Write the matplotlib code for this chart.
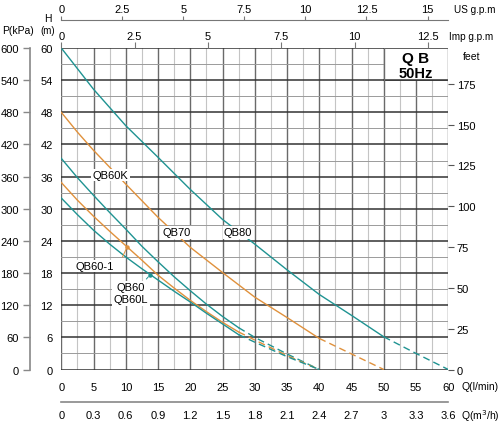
import numpy as np
import matplotlib
matplotlib.use("Agg")
import matplotlib.pyplot as plt

plt.rcParams['font.family'] = ['Liberation Sans', 'DejaVu Sans']
plt.rcParams['font.size'] = 8

TEAL = '#1f9392'
ORANGE = '#e0913c'

# flow Q (l/min) and head H (m)
q_80 = [0, 5, 10, 15, 20, 25, 30, 35, 40, 45, 50]
h_80 = [60, 52.3, 45.5, 39.6, 33.6, 28.0, 23.4, 18.6, 14.0, 10.1, 6.1]
q_80d = [50, 55, 60]
h_80d = [6.1, 3.0, 0]

q_70 = [0, 2.5, 5, 10, 15, 20, 25, 30, 35, 40]
h_70 = [48, 44.3, 40.9, 34.6, 28.4, 22.8, 18.1, 13.5, 9.7, 5.8]
q_70d = [40, 45, 50]
h_70d = [5.8, 2.9, 0]

q_60 = [0, 2.5, 5, 7.5, 10, 12.5, 15, 17.5, 20, 22.5, 25, 27.5]
h_60k = [39.4, 35.8, 32.5, 29.3, 26.2, 23.0, 20.1, 17.3, 14.7, 12.2, 9.9, 7.8]
h_601 = [34.9, 31.6, 28.6, 25.8, 23.1, 20.4, 17.6, 15.2, 12.9, 10.8, 8.8, 7.0]
h_60 = [32.0, 28.9, 26.0, 23.4, 21.0, 18.8, 16.7, 14.6, 12.6, 10.5, 8.5, 6.5]
q_60d = [27.5, 30, 35, 40]
h_60kd = [7.8, 6.0, 2.9, 0]
h_601d = [7.0, 5.5, 2.6, 0]
h_60d = [6.5, 5.1, 2.4, 0]

q_ticks = np.arange(0, 61, 5)
h_ticks = np.arange(0, 61, 6)
p_ticks = np.arange(0, 601, 60)
ft_ticks = np.arange(0, 176, 25)
us_ticks = [0, 2.5, 5, 7.5, 10, 12.5, 15]
imp_ticks = [0, 2.5, 5, 7.5, 10, 12.5]
m3h_ticks = np.round(np.arange(0, 3.61, 0.3), 1)

fig = plt.figure(figsize=(5.0, 4.27), dpi=100)
ax = fig.add_axes([0.1226, 0.1323, 0.774, 0.7529])
ax.set_xlim(0, 60)
ax.set_ylim(0, 60)

# grid
for q in np.arange(0, 60.1, 2.5):
    if q % 5 == 0:
        ax.axvline(q, color='#6a6a6a', lw=1.0, zorder=1)
    else:
        ax.axvline(q, color='#c4c4c4', lw=0.8, zorder=1)
for h in np.arange(0, 60.1, 3):
    if h % 6 == 0:
        ax.axhline(h, color='#333333', lw=1.1, zorder=1)
    else:
        ax.axhline(h, color='#9a9a9a', lw=0.7, zorder=1)

# title box: one blank grid cell in the top right corner
ax.fill_between([50, 60], 54, 60, color='white', zorder=1.5, lw=0)
ax.plot([50, 60], [60, 60], color='#333333', lw=1.1, zorder=2)
ax.plot([50, 60], [54, 54], color='#333333', lw=1.1, zorder=2)
ax.plot([50, 50], [54, 60], color='#6a6a6a', lw=1.0, zorder=2)
ax.plot([60, 60], [54, 60], color='#6a6a6a', lw=1.0, zorder=2)
ax.text(55, 58.1, 'Q B', ha='center', va='center', fontsize=11, fontweight='bold', zorder=5)
ax.text(55, 55.4, '50Hz', ha='center', va='center', fontsize=10.5, fontweight='bold', zorder=5)

# curves
dash = (0, (5, 3))
ax.plot(q_80, h_80, color=TEAL, lw=1.0, zorder=3)
ax.plot(q_80d, h_80d, color=TEAL, lw=1.0, ls=dash, zorder=3)
ax.plot(q_70, h_70, color=ORANGE, lw=1.0, zorder=3)
ax.plot(q_70d, h_70d, color=ORANGE, lw=1.0, ls=dash, zorder=3)
ax.plot(q_60, h_60k, color=TEAL, lw=1.0, zorder=3)
ax.plot(q_60d, h_60kd, color=TEAL, lw=1.0, ls=dash, zorder=3)
ax.plot(q_60, h_601, color=ORANGE, lw=1.0, zorder=3)
ax.plot(q_60d, h_601d, color=ORANGE, lw=1.0, ls=dash, zorder=3)
ax.plot(q_60, h_60, color=TEAL, lw=1.0, zorder=3)
ax.plot(q_60d, h_60d, color=TEAL, lw=1.0, ls=dash, zorder=3)

box = dict(facecolor='white', edgecolor='none', pad=1.0)
ax.text(7.6, 36.3, 'QB60K', ha='center', va='center', fontsize=8, bbox=box, zorder=5)
ax.text(17.9, 25.6, 'QB70', ha='center', va='center', fontsize=8, bbox=box, zorder=5)
ax.text(27.4, 25.6, 'QB80', ha='center', va='center', fontsize=8, bbox=box, zorder=5)
ax.text(5.2, 19.3, 'QB60-1', ha='center', va='center', fontsize=8, bbox=box, zorder=5)
ax.text(10.8, 14.2, 'QB60\nQB60L', ha='center', va='center', fontsize=8,
        linespacing=1.25, bbox=box, zorder=5)

# leader lines from labels to curves
q1 = 10.2
ax.annotate('', xy=(q1, np.interp(q1, q_60, h_601)), xytext=(9.3, 20.5),
            arrowprops=dict(arrowstyle='-', color=ORANGE, lw=0.7), zorder=6)
ax.plot(q1, np.interp(q1, q_60, h_601), 'o', color=ORANGE, ms=2.2, zorder=6)
q2 = 13.8
ax.annotate('', xy=(q2, np.interp(q2, q_60, h_60)), xytext=(12.9, 16.5),
            arrowprops=dict(arrowstyle='-', color=TEAL, lw=0.7), zorder=6)
ax.plot(q2, np.interp(q2, q_60, h_60), 'o', color=TEAL, ms=2.2, zorder=6)

for s in ax.spines.values():
    s.set_visible(False)
ax.set_xticks(q_ticks)
ax.set_yticks(h_ticks)
ax.tick_params(axis='both', length=0, labelsize=8, colors='black')
ax.tick_params(axis='x', pad=9)
ax.tick_params(axis='y', pad=6)

# P (kPa) axis on the far left
axp = ax.twinx()
axp.set_ylim(0, 600)
axp.yaxis.set_ticks_position('left')
axp.yaxis.set_label_position('left')
for k, s in axp.spines.items():
    s.set_visible(k == 'left')
axp.spines['left'].set_position(('outward', 22.5))
axp.spines['left'].set_color('#888888')
axp.spines['left'].set_linewidth(1.2)
axp.set_yticks(p_ticks)
axp.tick_params(axis='y', direction='out', length=5, width=1.0, color='#888888',
                labelsize=8, pad=3)

# feet axis on the right
axf = ax.twinx()
axf.set_ylim(0, 60 * 3.28084)
for s in axf.spines.values():
    s.set_visible(False)
axf.set_yticks(ft_ticks)
axf.tick_params(axis='y', direction='out', length=4, width=0.8, color='#555555',
                labelsize=8, pad=2)

# US gpm axis on top
axu = ax.twiny()
axu.set_xlim(0, 60 / 3.78541)
for k, s in axu.spines.items():
    s.set_visible(k == 'top')
axu.spines['top'].set_position(('outward', 20.5))
axu.spines['top'].set_color('#777777')
axu.set_xticks(us_ticks)
axu.set_xticklabels(['0', '2.5', '5', '7.5', '10', '12.5', '15'])
axu.tick_params(axis='x', direction='out', length=3, width=0.8, color='#777777',
                labelsize=8, pad=1)

# Imp gpm axis on top
axi = ax.twiny()
axi.set_xlim(0, 60 / 4.54609)
for s in axi.spines.values():
    s.set_visible(False)
axi.set_xticks(imp_ticks)
axi.set_xticklabels(['0', '2.5', '5', '7.5', '10', '12.5'])
axi.tick_params(axis='x', direction='out', length=4, width=0.8, color='#777777',
                labelsize=8, pad=1)

# m3/h axis at the bottom
axm = ax.twiny()
axm.set_xlim(0, 3.6)
axm.xaxis.set_ticks_position('bottom')
axm.xaxis.set_label_position('bottom')
for k, s in axm.spines.items():
    s.set_visible(k == 'bottom')
axm.spines['bottom'].set_position(('outward', 23.4))
axm.spines['bottom'].set_color('#888888')
axm.spines['bottom'].set_linewidth(1.2)
axm.set_xticks(m3h_ticks)
axm.set_xticklabels(['0', '0.3', '0.6', '0.9', '1.2', '1.5', '1.8', '2.1', '2.4',
                     '2.7', '3', '3.3', '3.6'])
axm.tick_params(axis='x', length=0, labelsize=8, pad=6)

# axis titles
fig.text(0.036, 1 - 31.5 / 427, 'P(kPa)', ha='center', va='center', fontsize=7.5)
fig.text(0.096, 1 - 19 / 427, 'H', ha='center', va='center', fontsize=7.5)
fig.text(0.096, 1 - 31 / 427, '(m)', ha='center', va='center', fontsize=7)
fig.text(0.908, 1 - 10 / 427, 'US g.p.m', ha='left', va='center', fontsize=7.2)
fig.text(0.898, 1 - 37 / 427, 'Imp g.p.m', ha='left', va='center', fontsize=7.2)
fig.text(0.925, 1 - 57 / 427, 'feet', ha='left', va='center', fontsize=7.5)
fig.text(0.922, 1 - 387 / 427, 'Q(l/min)', ha='left', va='center', fontsize=7.5)
fig.text(0.922, 1 - 416 / 427, 'Q(m$^3$/h)', ha='left', va='center', fontsize=7.5)

fig.savefig('out.png', dpi=100, facecolor='white')
